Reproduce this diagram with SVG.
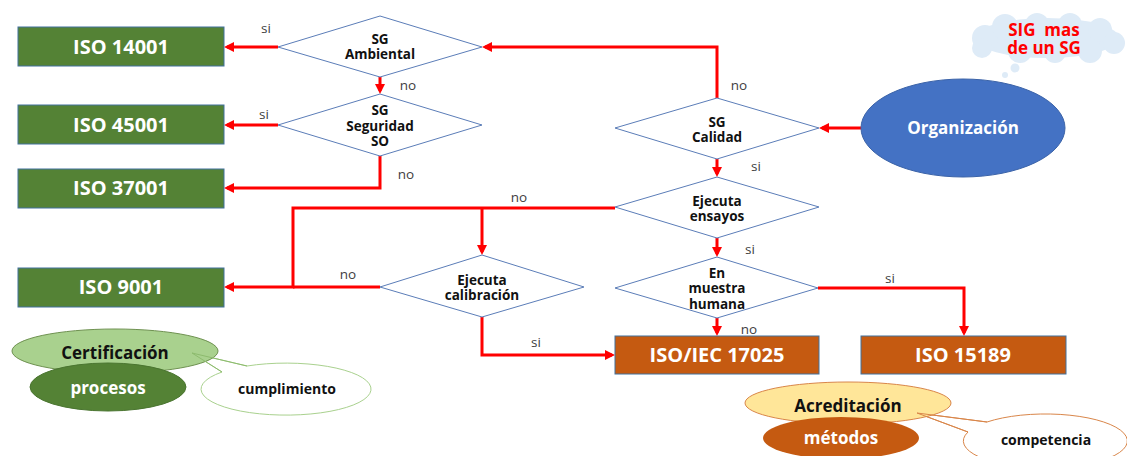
<svg xmlns="http://www.w3.org/2000/svg" width="1127" height="456" viewBox="0 0 1127 456">
<style>
.box{stroke:#41719C;stroke-width:1}
.green{fill:#548235}
.brown{fill:#C55A11}
.dia{fill:#fff;stroke:#5B7DB8;stroke-width:1}
.bt{font-family:"Open Sans","Liberation Sans",sans-serif;font-weight:bold;font-size:20px;fill:#fff;text-anchor:middle}
.dt{font-family:"Open Sans","Liberation Sans",sans-serif;font-weight:bold;font-size:13.5px;fill:#111;text-anchor:middle}
.lb{font-family:"Open Sans","Liberation Sans",sans-serif;font-size:13.5px;fill:#404040;text-anchor:middle}
.et{font-family:"Open Sans","Liberation Sans",sans-serif;font-weight:bold;font-size:17px;text-anchor:middle}
.ct{font-family:"Open Sans","Liberation Sans",sans-serif;font-weight:bold;font-size:14px;fill:#111;text-anchor:middle}
.con{fill:none;stroke:#FF0000;stroke-width:3}
</style>
<defs>
<marker id="ah" viewBox="0 0 10 10" refX="7" refY="5" markerWidth="10" markerHeight="10" markerUnits="userSpaceOnUse" orient="auto">
<path d="M0,0 L10,5 L0,10 z" fill="#FF0000"/>
</marker>
</defs>
<rect width="1127" height="456" fill="#fff"/>

<g id="connectors">
<path class="con" d="M717,98 V47 H485" marker-end="url(#ah)"/>
<path class="con" d="M861,128 H822" marker-end="url(#ah)"/>
<path class="con" d="M278,47 H227" marker-end="url(#ah)"/>
<path class="con" d="M380,77 V91" marker-end="url(#ah)"/>
<path class="con" d="M278,125 H227" marker-end="url(#ah)"/>
<path class="con" d="M380,156 V188 H227" marker-end="url(#ah)"/>
<path class="con" d="M717,159 V174" marker-end="url(#ah)"/>
<path class="con" d="M615,208 H293 V287 H227" marker-end="url(#ah)"/>
<path class="con" d="M482,208 V252" marker-end="url(#ah)"/>
<path class="con" d="M380,287 H293"/>
<path class="con" d="M482,317 V355 H612" marker-end="url(#ah)"/>
<path class="con" d="M717,238 V254" marker-end="url(#ah)"/>
<path class="con" d="M818,288 H964 V333" marker-end="url(#ah)"/>
<path class="con" d="M717,318 V333" marker-end="url(#ah)"/>
<text class="lb" x="266" y="33">si</text>
<text class="lb" x="408" y="90">no</text>
<text class="lb" x="264" y="119">si</text>
<text class="lb" x="406" y="179">no</text>
<text class="lb" x="739" y="90">no</text>
<text class="lb" x="756" y="171">si</text>
<text class="lb" x="519" y="202">no</text>
<text class="lb" x="750" y="254">si</text>
<text class="lb" x="348" y="279">no</text>
<text class="lb" x="890" y="283">si</text>
<text class="lb" x="749" y="334">no</text>
<text class="lb" x="536" y="347">si</text>
</g>

<g id="iso14001"><rect class="box green" x="18" y="27" width="206" height="39"/><text class="bt" x="121" y="54">ISO 14001</text></g>
<g id="iso45001"><rect class="box green" x="18" y="105" width="206" height="39"/><text class="bt" x="121" y="132">ISO 45001</text></g>
<g id="iso37001"><rect class="box green" x="18" y="169" width="206" height="39"/><text class="bt" x="121" y="195">ISO 37001</text></g>
<g id="iso9001"><rect class="box green" x="18" y="268" width="206" height="39"/><text class="bt" x="121" y="294">ISO 9001</text></g>
<g id="iso17025"><rect class="box brown" x="615" y="336" width="204" height="38"/><text class="bt" x="717" y="362">ISO/IEC 17025</text></g>
<g id="iso15189"><rect class="box brown" x="861" y="336" width="205" height="38"/><text class="bt" x="963" y="362">ISO 15189</text></g>

<g id="sg-ambiental"><polygon class="dia" points="380,16 482,47 380,77 278,47"/><text class="dt" x="380" y="44">SG</text><text class="dt" x="380" y="59">Ambiental</text></g>
<g id="sg-seguridad"><polygon class="dia" points="380,94 482,125 380,156 278,125"/><text class="dt" x="380" y="115">SG</text><text class="dt" x="380" y="131">Seguridad</text><text class="dt" x="380" y="146">SO</text></g>
<g id="sg-calidad"><polygon class="dia" points="717,98 819,128 717,159 615,128"/><text class="dt" x="717" y="127">SG</text><text class="dt" x="717" y="142">Calidad</text></g>
<g id="ejecuta-ensayos"><polygon class="dia" points="717,177 819,207 717,238 615,207"/><text class="dt" x="717" y="206">Ejecuta</text><text class="dt" x="717" y="221">ensayos</text></g>
<g id="muestra-humana"><polygon class="dia" points="717,257 818,288 717,318 615,288"/><text class="dt" x="717" y="278">En</text><text class="dt" x="717" y="293">muestra</text><text class="dt" x="717" y="309">humana</text></g>
<g id="ejecuta-calibracion"><polygon class="dia" points="482,255 584,287 482,317 380,287"/><text class="dt" x="482" y="285">Ejecuta</text><text class="dt" x="482" y="300">calibración</text></g>

<g id="organizacion"><ellipse cx="963" cy="128" rx="102" ry="49" fill="#4472C4" stroke="#3B63A8" stroke-width="1"/><text class="et" x="963" y="134" fill="#fff">Organización</text></g>

<g id="cloud">
<g fill="#DEEBF7">
<ellipse cx="1047" cy="38" rx="72" ry="20"/>
<circle cx="985" cy="38" r="13"/><circle cx="1005" cy="27" r="13"/><circle cx="1037" cy="25" r="12"/><circle cx="1070" cy="25" r="12"/><circle cx="1100" cy="30" r="12"/><circle cx="1114" cy="43" r="11"/><circle cx="1090" cy="51" r="12"/><circle cx="1055" cy="52" r="11"/><circle cx="1020" cy="51" r="12"/><circle cx="982" cy="48" r="10"/>
<circle cx="1015" cy="68" r="4.5"/><circle cx="1005" cy="75" r="3"/>
</g>
<text class="et" x="1044" y="36" fill="#FF0000" font-size="16" style="white-space:pre">SIG  mas</text>
<text class="et" x="1044" y="54" fill="#FF0000" font-size="16">de un SG</text>
</g>

<g id="certificacion">
<path d="M247,366 L192,353 L222,372 A85,26 0 1 0 247,366 Z" fill="#fff" stroke="#A9D18E" stroke-width="1"/>
<ellipse cx="115" cy="351" rx="103" ry="22" fill="#A9D18E" stroke="#6E9150" stroke-width="1"/>
<path d="M247,366 L192,353 L222,372" fill="none" stroke="#8DBB6E" stroke-width="1"/>
<ellipse cx="108" cy="387" rx="78" ry="24" fill="#548235" stroke="#4A7530" stroke-width="1"/>
<text class="et" x="115" y="359" fill="#111">Certificación</text>
<text class="et" x="108" y="394" fill="#fff">procesos</text>
<text class="ct" x="287" y="394">cumplimiento</text>
</g>

<g id="acreditacion">
<path d="M987,422 L917,413 L968,432 A82,27 0 1 0 987,422 Z" fill="#fff" stroke="#D9864A" stroke-width="1"/>
<ellipse cx="848" cy="403" rx="103" ry="21" fill="#FFE699" stroke="#D9864A" stroke-width="1"/>
<path d="M987,422 L917,413 L968,432" fill="none" stroke="#D9864A" stroke-width="1"/>
<ellipse cx="841" cy="438" rx="78" ry="21" fill="#C55A11"/>
<text class="et" x="848" y="412" fill="#111">Acreditación</text>
<text class="et" x="841" y="444" fill="#fff">métodos</text>
<text class="ct" x="1046" y="445">competencia</text>
</g>
</svg>
